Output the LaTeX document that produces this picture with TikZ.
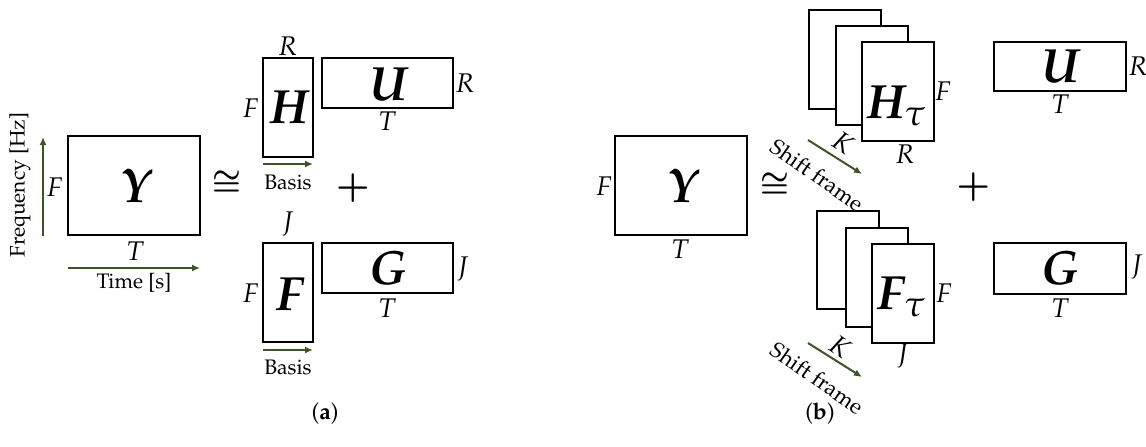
\documentclass[tikz,border=0pt]{standalone}
\usepackage[T1]{fontenc}
\usepackage{mathpazo}
\usetikzlibrary{arrows.meta}
\definecolor{agreen}{RGB}{56,87,35}
\tikzset{
  mbox/.style={draw, line width=1pt, fill=white, inner sep=0pt},
  lab/.style={font=\fontsize{13.5}{16}\selectfont\itshape, inner sep=0pt, anchor=base},
  big/.style={font=\fontsize{24}{28}\selectfont\bfseries\itshape, inner sep=0pt, anchor=base},
  small/.style={font=\fontsize{10.5}{12}\selectfont, inner sep=0pt},
  shifttext/.style={font=\fontsize{11}{13}\selectfont, inner sep=0pt, rotate=-35},
  congsym/.style={font=\fontsize{15.5}{18}\selectfont\boldmath, inner sep=0pt},
  plussym/.style={font=\fontsize{18}{20}\selectfont\boldmath, inner sep=0pt},
  garrow/.style={draw=agreen, line width=1pt, -{Latex[length=4pt,width=3.5pt]}},
  subcap/.style={font=\fontsize{11.5}{14}\selectfont, inner sep=0pt}
}
\begin{document}
\begin{tikzpicture}[x=0.5pt,y=-0.5pt]
\useasboundingbox (0,0) rectangle (1146,446);
% ---------------- (a) ----------------
\node[mbox, minimum width=66pt, minimum height=49.5pt] (Ya) at (134,185.5) {};
\node[big] (Yat) at (135,202) {Y};
\node[lab] (YaF) at (55,196) {F};
\node[lab] (YaT) at (135,260) {T};
\coordinate (fs) at (43,236);
\coordinate (fe) at (43,137);
\draw[garrow] (fs) -- (fe);
\node[small, rotate=90] (freq) at (20,185) {Frequency [Hz]};
\coordinate (ts) at (68,268);
\coordinate (te) at (200,268);
\draw[garrow] (ts) -- (te);
\node[small] (time) at (134,283) {Time [s]};
\node[congsym] (conga) at (226.5,183) {$\cong$};

\node[mbox, minimum width=25pt, minimum height=49.5pt] (Ha) at (288,107.5) {};
\node[big] (Hat) at (289,123) {H};
\node[lab] (HaR) at (288,55) {R};
\node[lab] (HaF) at (251,117) {F};
\coordinate (bs1) at (263,164);
\coordinate (be1) at (313,164);
\draw[garrow] (bs1) -- (be1);
\node[small] (basis1) at (288,182) {Basis};

\node[mbox, minimum width=65.5pt, minimum height=25pt] (Ua) at (387.5,83) {};
\node[big] (Uat) at (388,100) {U};
\node[lab] (UaR) at (465,92) {R};
\node[lab] (UaT) at (387,130) {T};

\node[plussym] (plusa) at (353,188) {$+$};

\node[mbox, minimum width=25pt, minimum height=49.5pt] (Fa) at (288,292.5) {};
\node[big] (Fat) at (290,310) {F};
\node[lab] (FaJ) at (288,230) {J};
\node[lab] (FaF) at (251,302) {F};
\coordinate (bs2) at (263,350);
\coordinate (be2) at (313,350);
\draw[garrow] (bs2) -- (be2);
\node[small] (basis2) at (288,367) {Basis};

\node[mbox, minimum width=65.5pt, minimum height=25pt] (Ga) at (387.5,268) {};
\node[big] (Gat) at (388,284) {G};
\node[lab] (GaJ) at (463,275) {J};
\node[lab] (GaT) at (387,317) {T};

\node[subcap] (capa) at (325,414) {(\textbf{a})};

% ---------------- (b) ----------------
\node[mbox, minimum width=66pt, minimum height=49.5pt] (Yb) at (681,185.5) {};
\node[big] (Ybt) at (682,202) {Y};
\node[lab] (YbF) at (604,195) {F};
\node[lab] (YbT) at (680,258) {T};
\node[congsym] (congb) at (774.5,185) {$\cong$};

\node[mbox, minimum width=36pt, minimum height=49.5pt] (Hb3) at (845,59.5) {};
\node[mbox, minimum width=36pt, minimum height=49.5pt] (Hb2) at (871.5,75) {};
\node[mbox, minimum width=36pt, minimum height=49.5pt] (Hb1) at (898,91.5) {};
\node[big] (Hbt) at (897,118) {H$_\tau$};
\node[lab] (HbF) at (943,100) {F};
\node[lab] (HbR) at (905,163) {R};
\node[lab, anchor=center, rotate=-33] (HbK) at (843,143) {K};
\coordinate (ss1) at (808,140);
\coordinate (se1) at (862,174);
\draw[garrow] (ss1) -- (se1);

\node[mbox, minimum width=66pt, minimum height=24.5pt] (Ub) at (1060,66.5) {};
\node[big] (Ubt) at (1060,82) {U};
\node[lab] (UbR) at (1138,75) {R};
\node[lab] (UbT) at (1060,113) {T};

\node[plussym] (plusb) at (973.5,187) {$+$};

\node[mbox, minimum width=31pt, minimum height=49pt] (Fb3) at (848,260) {};
\node[mbox, minimum width=31pt, minimum height=49.5pt] (Fb2) at (876.5,277.5) {};
\node[mbox, minimum width=31pt, minimum height=49.5pt] (Fb1) at (903,293.5) {};
\node[big] (Fbt) at (902,309) {F$_\tau$};
\node[lab] (FbF) at (944,302) {F};
\node[lab] (FbJ) at (903,362) {J};
\node[lab, anchor=center, rotate=-33] (FbK) at (840,347) {K};
\coordinate (ss2) at (808,343);
\coordinate (se2) at (862,377);
\draw[garrow] (ss2) -- (se2);
\node[shifttext] (shift1) at (817,175) {Shift frame};
\node[shifttext] (shift2) at (817,378) {Shift frame};

\node[mbox, minimum width=66pt, minimum height=25.5pt] (Gb) at (1060,268.5) {};
\node[big] (Gbt) at (1060,284) {G};
\node[lab] (GbJ) at (1137,273) {J};
\node[lab] (GbT) at (1060,317) {T};

\node[subcap] (capb) at (820,414) {(\textbf{b})};
\end{tikzpicture}
\end{document}
